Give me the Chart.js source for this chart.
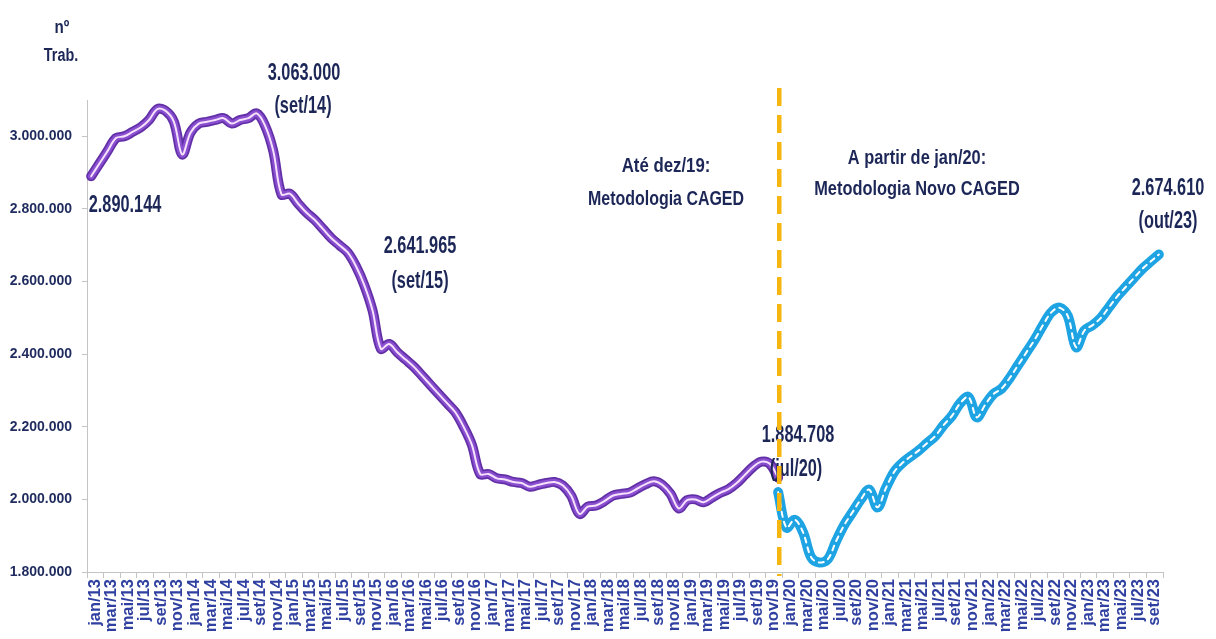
<!DOCTYPE html>
<html><head><meta charset="utf-8">
<script src="https://cdn.jsdelivr.net/npm/chart.js@4.4.0/dist/chart.umd.min.js"></script>
<style>html,body{margin:0;padding:0;background:#fff;}#wrap{width:1216px;height:639px;position:relative;}</style>
</head><body><div id="wrap"><canvas id="c" width="1216" height="639"></canvas></div>
<script>
const monthNames = ['jan','fev','mar','abr','mai','jun','jul','ago','set','out','nov','dez'];
const categories = [];
for (let y = 13; y <= 23; y++) for (let m = 0; m < 12; m++) { if (y === 23 && m > 9) break; categories.push(monthNames[m] + '/' + y); }

// Metodologia CAGED: jan/13 .. dez/19
const cagedValues = [
 2890144,2925000,2960000,2995000,3000000,3012000,3025000,3045000,3075000,3070000,3040000,2950000,
 3010000,3035000,3040000,3045000,3050000,3035000,3045000,3050000,3063000,3030000,2960000,2840000,
 2842000,2815000,2790000,2770000,2745000,2720000,2700000,2680000,2641965,2590000,2520000,2415000,
 2428000,2405000,2385000,2365000,2340000,2315000,2290000,2265000,2240000,2200000,2150000,2070000,
 2070000,2058000,2055000,2048000,2045000,2035000,2040000,2045000,2048000,2038000,2010000,1960000,
 1980000,1983000,1995000,2010000,2015000,2018000,2030000,2042000,2050000,2040000,2015000,1975000,
 1998000,2000000,1992000,2005000,2018000,2028000,2045000,2068000,2090000,2104000,2098000,2060000
];
// Metodologia Novo CAGED: dez/19 (ligação) .. out/23
const novoCagedValues = [
 2020000,
 1922000,1944000,1910000,1840000,1826000,1835000,1884708,1930000,1965000,2000000,2027000,1978000,
 2030000,2075000,2100000,2118000,2135000,2155000,2175000,2205000,2230000,2265000,2282000,2226000,
 2260000,2290000,2305000,2335000,2370000,2405000,2440000,2480000,2515000,2528000,2505000,2419000,
 2465000,2480000,2500000,2530000,2560000,2585000,2610000,2635000,2655000,2674610
];
const yTickValues = [1800000,2000000,2200000,2400000,2600000,2800000,3000000];

const cagedSeries = categories.map((c,i) => i < cagedValues.length ? cagedValues[i] : null);
const novoStart = categories.indexOf('dez/19');
const novoSeries = categories.map((c,i) => i >= novoStart ? novoCagedValues[i - novoStart] : null);

const fmt = v => String(Math.round(v)).replace(/\B(?=(\d{3})+(?!\d))/g, '.');
const FONT = "'Liberation Sans', Arial, sans-serif";
const TXT = '#1c2757';

const annotations = [
 {t:'nº', x:62, y:33, s:19, sx:0.8},
 {t:'Trab.', x:61, y:61, s:18, sx:0.8},
 {t:'2.890.144', x:125, y:212, s:24, sx:0.68},
 {t:'3.063.000', x:304, y:80, s:24, sx:0.68},
 {t:'(set/14)', x:303, y:113, s:24, sx:0.68},
 {t:'2.641.965', x:420, y:253, s:24, sx:0.68},
 {t:'(set/15)', x:420, y:288, s:24, sx:0.68},
 {t:'Até dez/19:', x:666, y:172, s:21, sx:0.8},
 {t:'Metodologia CAGED', x:666, y:205, s:21, sx:0.76},
 {t:'A partir de jan/20:', x:917, y:164, s:21, sx:0.78},
 {t:'Metodologia Novo CAGED', x:917, y:195, s:21, sx:0.78},
 {t:'2.674.610', x:1168, y:195, s:24, sx:0.68},
 {t:'(out/23)', x:1168, y:228, s:24, sx:0.68},
 {t:'1.884.708', x:798, y:442, s:24, sx:0.68},
 {t:'(jul/20)', x:796, y:476, s:24, sx:0.68}
];

const overlay = {
 id:'overlay',
 afterDraw(chart){
  const ctx = chart.ctx;
  ctx.save();
  ctx.fillStyle = TXT;
  ctx.textAlign = 'center';
  ctx.textBaseline = 'alphabetic';
  annotations.forEach(a => {
   ctx.save();
   ctx.translate(a.x, a.y);
   ctx.scale(a.sx, 1);
   ctx.font = 'bold ' + a.s + 'px ' + FONT;
   ctx.fillText(a.t, 0, 0);
   ctx.restore();
  });
  const xs = chart.scales.x;
  const xl = (xs.getPixelForValue(novoStart) + xs.getPixelForValue(novoStart + 1)) / 2 - 3;
  ctx.strokeStyle = '#f6b60f';
  ctx.lineWidth = 4.5;
  ctx.setLineDash([18, 9]);
  ctx.beginPath();
  ctx.moveTo(xl, 88);
  ctx.lineTo(xl, chart.chartArea.bottom + 4);
  ctx.stroke();
  ctx.restore();
 }
};

const common = {pointRadius:0, pointHoverRadius:0, fill:false, tension:0.35, spanGaps:false, borderCapStyle:'round', borderJoinStyle:'round'};

new Chart(document.getElementById('c'), {
 type:'line',
 data:{
  labels: categories,
  datasets:[
   Object.assign({label:'CAGED (centro)', data:cagedSeries, borderColor:'#f6e2fa', borderWidth:2, order:0}, common),
   Object.assign({label:'CAGED (meio)', data:cagedSeries, borderColor:'#8a4fd0', borderWidth:6.5, order:1}, common),
   Object.assign({label:'CAGED', data:cagedSeries, borderColor:'#6230a6', borderWidth:10, order:2}, common),
   Object.assign({label:'Novo CAGED (centro)', data:novoSeries, borderColor:'#ffffff', borderWidth:2, borderDash:[5,5], order:3}, common),
   Object.assign({label:'Novo CAGED', data:novoSeries, borderColor:'#1ea3e3', borderWidth:10, order:4}, common)
  ]
 },
 options:{
  responsive:false, animation:false, devicePixelRatio:1,
  layout:{padding:{top:100, right:53, bottom:0, left:0}},
  plugins:{legend:{display:false}, tooltip:{enabled:false}},
  scales:{
   x:{
    type:'category', offset:true,
    grid:{offset:true, drawOnChartArea:false, drawTicks:true, tickLength:6,
          color:(c) => (c.index === undefined || c.index % 2 === 0) ? '#c4c4c4' : 'rgba(0,0,0,0)'},
    border:{display:true, color:'#c4c4c4', width:1},
    ticks:{autoSkip:false, minRotation:90, maxRotation:90, padding:1, labelOffset:4,
           font:{family:FONT, size:16.5, weight:'bold'}, color:'#2f40a0',
           callback:function(v,i){ return i % 2 === 0 ? this.getLabelForValue(v) : ''; }},
    afterFit:(s) => { s.height = 67; }
   },
   y:{
    min:1800000, max:3100000,
    afterBuildTicks:(s) => { s.ticks = yTickValues.map(v => ({value:v})); },
    grid:{drawOnChartArea:false, drawTicks:true, tickLength:5, color:'#c4c4c4'},
    border:{display:true, color:'#c4c4c4', width:1},
    ticks:{padding:10, font:{family:FONT, size:14, weight:'bold'}, color:'#1f2b5e', callback:(v) => fmt(v)},
    afterFit:(s) => { s.width = 87; }
   }
  }
 },
 plugins:[overlay]
});
</script>
</body></html>
